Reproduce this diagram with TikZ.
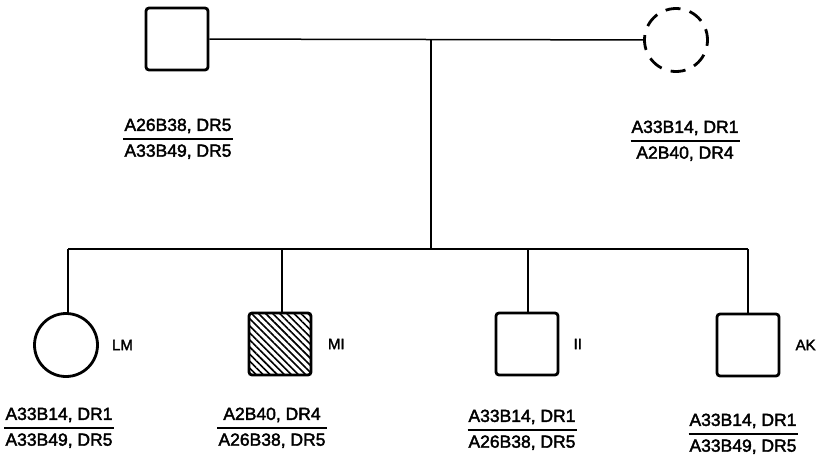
\documentclass[tikz,border=0pt]{standalone}
\usepackage{fontspec}
\setmainfont[FakeBold=2.2]{Liberation Sans}
\usepackage{tikz}
\usetikzlibrary{positioning, calc, patterns.meta}

\setlength{\tabcolsep}{1pt}
\setlength{\arrayrulewidth}{1.8pt}
\renewcommand{\arraystretch}{1.2}
\newcommand{\haplo}[2]{\begin{tabular}{c}#1\\\hline #2\end{tabular}}

\begin{document}
\begin{tikzpicture}[x=1pt, y=-1pt,
    male/.style={draw, line width=2.8pt, rounded corners=3pt, minimum size=62pt, inner sep=0pt},
    female/.style={draw, circle, line width=2.8pt, minimum size=63pt, inner sep=0pt},
    link/.style={line width=1.5pt},
    geno/.style={font=\fontsize{17.5}{20}\selectfont, inner sep=0pt},
    tag/.style={font=\fontsize{15}{17}\selectfont, inner sep=0pt}]
    \useasboundingbox (0,0) rectangle (816,458);

    % parents
    \node[male] (father) at (177,39) {};
    \node[female, dash pattern=on 15pt off 9.5pt, dash phase=4pt] (mother) at (676,40) {};
    \draw[link] (father) -- (mother);

    \coordinate (mid) at (431,39);
    \coordinate (sib) at (431,249);
    \draw[link] (mid) -- (sib);

    \node[geno] (gfather) at (178,139) {\haplo{A26B38, DR5}{A33B49, DR5}};
    \node[geno] (gmother) at (685,141) {\haplo{A33B14, DR1}{A2B40, DR4}};

    % sibship
    \coordinate (s1) at (68,249);
    \coordinate (s2) at (282,249);
    \coordinate (s3) at (528,249);
    \coordinate (s4) at (748,249);
    \draw[link] (s1) -- (s4);

    \node[female] (lm) at (66,345) {};
    \node[male, pattern={Lines[angle=-45, distance=5pt, line width=1.6pt]}] (mi) at (280,344) {};
    \node[male] (ii) at (527,344) {};
    \node[male] (ak) at (748,345) {};

    \foreach \s/\c in {s1/lm, s2/mi, s3/ii, s4/ak}
        \draw[link] (\s) -- (\s |- \c.north);

    \node[tag, right=13pt of lm] (tlm) {LM};
    \node[tag, right=16pt of mi] (tmi) {MI};
    \node[tag, right=14pt of ii] (tii) {II};
    \node[tag, right=15pt of ak] (tak) {AK};

    \node[geno] (glm) at (59,428) {\haplo{A33B14, DR1}{A33B49, DR5}};
    \node[geno] (gmi) at (272,428) {\haplo{A2B40, DR4}{A26B38, DR5}};
    \node[geno] (gii) at (522,430) {\haplo{A33B14, DR1}{A26B38, DR5}};
    \node[geno] (gak) at (743,434) {\haplo{A33B14, DR1}{A33B49, DR5}};
\end{tikzpicture}
\end{document}
